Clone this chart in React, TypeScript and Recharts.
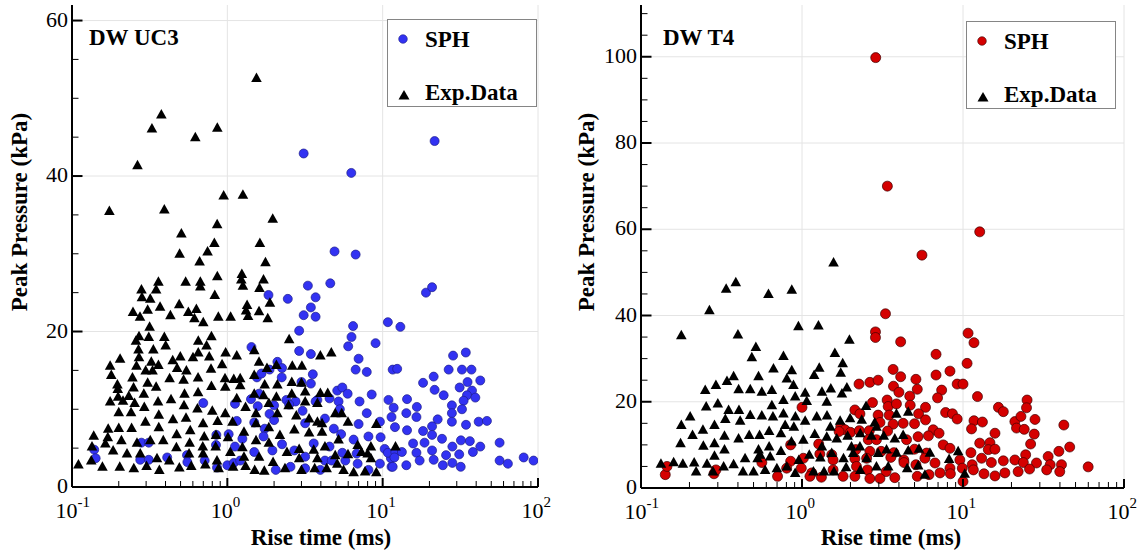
import React from 'react';
import { CartesianGrid, Legend, Scatter, ScatterChart, XAxis, YAxis } from 'recharts';

const SERIF = '"Liberation Serif", "Times New Roman", Times, serif';

// [rise time (ms), peak pressure (kPa)]
const UC3_SPH: [number, number][] = [
  [3.1, 42.9], [6.28, 40.4], [21.6, 44.5], [4.9, 30.3], [6.7, 29.9],
  [0.7, 10.8], [0.28, 5.7], [0.312, 5.7], [0.139, 4.8], [0.142, 3.7], [0.275, 3.5], [0.312, 3.5],
  [0.41, 3.8], [0.55, 4.1], [0.553, 3.2], [0.715, 3.4], [0.85, 6.7], [0.845, 5.4], [0.858, 2.5],
  [1.02, 6.8], [1.0, 2.8], [1.1, 3.1],
  [3.3, 25.9], [4.6, 26.2], [1.84, 24.7], [2.45, 24.2], [3.7, 24.4], [3.45, 23.1], [3.1, 22.1],
  [3.7, 21.9], [2.9, 20.1], [6.45, 20.7], [10.8, 21.2], [6.3, 19.3], [6.0, 18.1], [9.0, 18.5],
  [1.43, 18], [2.9, 17.5], [3.45, 17.1], [7.0, 16.5], [6.7, 15.1], [7.9, 14.8], [11.6, 15.1],
  [2.1, 16.1], [2.25, 15.3], [3.55, 14.5], [1.87, 15.1], [1.55, 14.1], [1.66, 14.6], [2.24, 14.1],
  [3.0, 13.5], [3.45, 13.3], [5.1, 12.4], [5.5, 12.8], [5.95, 12], [4.55, 11.4], [3.8, 11.2],
  [8.5, 11.9], [10.9, 11.2], [7.1, 11], [5.2, 11], [3.7, 11], [2.75, 11], [2.4, 11.2], [2.0, 10.5],
  [1.6, 12], [1.42, 11.3], [1.12, 10.7], [1.57, 10.4], [1.87, 9.4], [2.5, 10.6], [3.05, 9.8],
  [4.25, 8.8], [5.3, 10], [7.9, 9.5], [7.0, 8.1], [9.7, 6.4], [9.6, 8.4], [11.4, 9], [1.15, 8.5],
  [1.49, 8.3], [1.74, 7.5], [2.0, 8.6], [3.17, 8.2], [4.85, 7.5], [5.4, 6.8], [6.5, 6.1], [8.1, 6.5],
  [1.25, 6.2], [1.71, 6.5], [2.25, 5.5], [3.6, 5.6], [4.55, 5.2], [5.5, 4.4], [6.8, 4.3], [10.3, 4.9],
  [11.3, 3.7], [10.8, 4.4], [1.12, 5.2], [1.49, 4.5], [1.95, 4.7], [2.7, 4.7], [3.17, 3.9], [4.25, 3.4],
  [1.21, 3.4], [2.05, 2.2], [2.55, 2.6], [4.7, 3.4], [5.75, 3.4], [6.9, 3], [8.1, 2.2], [9.6, 3],
  [11.4, 2.6], [3.97, 2.2], [3.17, 2.4], [11.77, 10.2],
  [13, 20.6], [12.4, 15.2], [19, 25], [20.8, 25.7], [28.4, 16.9], [34.3, 17.3], [26.6, 15.1],
  [32.4, 15.1], [37.3, 15.1], [21.3, 14.2], [18.2, 13.4], [35.2, 13.5], [42.5, 13.7], [21.6, 12.5],
  [24.7, 11.8], [31.3, 12.8], [37.6, 12.4], [34.9, 11.8], [39.5, 11.5], [14.35, 11.3], [16.6, 10.3],
  [14.2, 9.5], [16.5, 9], [27.9, 10.5], [33.2, 11.1], [32.4, 10], [27.9, 9.5], [22.6, 8.7],
  [27.9, 8.4], [34.4, 8], [41.5, 8.4], [46.9, 8.5], [18.2, 7.2], [20.8, 7.8], [20.8, 6.7], [24.1, 6.2],
  [18.6, 5.7], [15.7, 5.6], [16.5, 4.4], [20.8, 4.7], [25.6, 4.1], [31.1, 4.2], [38.1, 4.5],
  [42.5, 5.2], [36.4, 5.9], [31.9, 6], [28.1, 5.2], [12.06, 4.5], [13.3, 4.5], [11.9, 3.8],
  [17.3, 3.4], [21.3, 3.5], [24.4, 2.8], [28.1, 3.1], [31.8, 2.6], [14.2, 2.8], [11.6, 2.6],
  [56.6, 5.7], [56.6, 3.4], [64, 3], [80.9, 3.8], [93.6, 3.4], [12.0, 7.7], [14.35, 7.3],
];

const UC3_EXP: [number, number][] = [
  [1.54, 52.6], [0.376, 47.9], [0.327, 46.1], [0.862, 46.2], [0.622, 45], [0.264, 41.4],
  [0.947, 37.5], [1.26, 37.6], [0.174, 35.5], [0.393, 35.7], [1.96, 34.5], [0.86, 33.8],
  [0.506, 32.6], [1.62, 31.4], [0.825, 31.4], [0.493, 30], [0.746, 30.3], [0.663, 29], [1.76, 28.9],
  [0.862, 27.1], [0.539, 26.4], [0.36, 26.4], [0.67, 26.4], [0.67, 25.8], [0.28, 25.4], [0.348, 25.4],
  [0.83, 24.7], [0.282, 24.4], [0.319, 24.2], [0.49, 23.5], [0.369, 23.2], [0.247, 22.5],
  [0.307, 22.8], [0.632, 22.9], [0.274, 21.9], [0.43, 22.1], [0.561, 22.5], [0.614, 21.7],
  [0.7, 21.2], [0.875, 21.9], [0.316, 20.6], [0.27, 19.4], [0.312, 19.3], [0.393, 19.3],
  [0.258, 18.8], [0.401, 18.2], [0.65, 18.8], [0.79, 19.4], [0.735, 18.2], [0.268, 17.7],
  [0.334, 17.7], [0.204, 16.5], [0.27, 16.7], [0.445, 16.3], [0.498, 16.8], [0.601, 16.7],
  [0.65, 17.3], [0.765, 16.8], [0.975, 17.3], [0.176, 15.6], [0.26, 15.6], [0.324, 16.1],
  [0.36, 15.7], [0.179, 14.4], [0.298, 15], [0.33, 15], [0.475, 15.3], [0.545, 15], [0.925, 15.8],
  [0.785, 15.2], [0.196, 13.2], [0.245, 14.1], [0.307, 13.4], [0.348, 12.9], [0.425, 14],
  [0.523, 13.8], [0.648, 14.1], [0.966, 14], [1.1, 13.9], [0.197, 12.6], [0.249, 12.8], [0.29, 12],
  [0.198, 11.6], [0.232, 11.7], [0.176, 11], [0.213, 11.1], [0.253, 10.8], [0.358, 11],
  [0.434, 11.3], [0.53, 12], [0.648, 12.2], [0.79, 13], [0.97, 12.9], [0.292, 10.3], [0.2, 9.6],
  [0.24, 9.6], [0.362, 9.3], [0.526, 10.5], [0.642, 10.1], [0.8, 9.8], [0.97, 9.5], [0.297, 8.4],
  [0.447, 8.7], [0.542, 8.9], [0.698, 8.2], [0.866, 8.5], [1.08, 8.4], [0.171, 7.5], [0.2, 7.6],
  [0.242, 7.6], [0.362, 7.7], [0.472, 6.8], [0.577, 7.3], [0.71, 6.5], [0.845, 6.7], [1.01, 6.4],
  [0.138, 6.6], [0.17, 6.4], [0.208, 6], [0.262, 5.7], [0.319, 6], [0.387, 6], [0.572, 5.7],
  [0.695, 5.2], [0.841, 5.2], [0.1345, 5.2], [0.164, 5.6], [0.184, 4.7], [0.226, 4.3], [0.275, 4.3],
  [0.3525, 3.7], [0.47, 5.1], [0.567, 4.3], [0.698, 4.3], [0.858, 3.4], [1.045, 4.5], [0.11, 2.9],
  [0.133, 3.4], [0.157, 2.6], [0.203, 2.6], [0.25, 2.4], [0.302, 2.7], [0.365, 2.2], [0.423, 3.4],
  [0.491, 2.5], [0.586, 2.7], [0.722, 2.9], [0.879, 2.4], [1.09, 2.6],
  [1.24, 27.4], [1.23, 26.7], [1.26, 25.9], [1.71, 26.7], [1.61, 25.6], [1.88, 23.7], [1.34, 23.4],
  [1.32, 22.7], [1.36, 22], [1.6, 22.6], [1.82, 21.7], [1.05, 21.9], [2.5, 19], [1.49, 17.6],
  [1.15, 16.9], [3.97, 16.9], [4.67, 17.3], [1.6, 16.1], [2.07, 15.7], [1.8, 15.3], [2.62, 15.6],
  [3.02, 15.6], [1.21, 14], [1.49, 14.4], [1.74, 13.2], [2.1, 13.2], [2.6, 13.5], [3.0, 13.4],
  [1.21, 13.1], [1.49, 12], [1.71, 11.8], [2.07, 11.6], [2.6, 12], [3.17, 12.3], [3.97, 12.1],
  [4.43, 12.1], [1.15, 11.4], [1.85, 10.8], [2.48, 10.5], [3.17, 11], [3.8, 10.8], [1.31, 10.3],
  [1.53, 9.5], [2.1, 9.5], [2.78, 9.2], [3.36, 8.8], [3.8, 8.4], [4.07, 8.2], [4.95, 9.5],
  [5.45, 9.5], [5.98, 8.4], [9.1, 8.1], [1.28, 7.1], [1.53, 8.2], [1.85, 7.7], [2.18, 6.7],
  [2.7, 7.4], [3.36, 7], [4.07, 7.1], [5.2, 6.1], [1.25, 5.1], [1.53, 6], [1.85, 5.7], [2.42, 4.5],
  [2.9, 4.9], [3.6, 4.8], [4.25, 5.2], [6.9, 5.4], [8.4, 5.2], [1.28, 3.9], [1.6, 3.9], [1.97, 3.2],
  [2.9, 3.7], [3.8, 3.7], [4.95, 4.1], [5.98, 4.2], [7.3, 4.5], [8.0, 4.3], [8.4, 3.7], [1.31, 2.7],
  [1.5, 2.2], [1.73, 2.1], [2.35, 2.4], [3.0, 2.2], [3.65, 2.4], [4.36, 2.4], [5.1, 3], [5.6, 2.2],
  [6.5, 1.9], [7.7, 2], [9.1, 1.9], [12.1, 5.2],
];

const T4_SPH: [number, number][] = [
  [2.87, 99.8], [3.39, 70], [12.7, 59.4], [5.56, 54], [3.3, 40.4],
  [0.1415, 3.1], [0.145, 5], [0.284, 3.3], [0.292, 4.2], [0.563, 5.9], [0.705, 2.7], [0.85, 6.2],
  [2.86, 36.2], [2.86, 34.9], [4.1, 33.9], [10.75, 35.9], [11.7, 33.7], [6.8, 31], [10.6, 28.9],
  [3.68, 27.5], [4.1, 25.8], [6.8, 26.2], [8.3, 27.1], [5.1, 25.2], [2.26, 24.1], [2.64, 24.5],
  [2.97, 25], [3.7, 23.6], [4.0, 22.2], [4.67, 21.3], [5.2, 22.9], [7.37, 22.7], [9.2, 24.1],
  [10, 24.1], [6.95, 20.9], [12.3, 21.2], [1.0, 18.7], [2.13, 18.1], [2.29, 17.2], [2.74, 19.8],
  [3.38, 20.4], [3.43, 18.9], [3.86, 19.5], [4.7, 19.2], [5.85, 18.7], [7.8, 17.5], [8.6, 17.2],
  [9.2, 16], [11.7, 15.6], [11.3, 13.7], [2.97, 16.9], [3.48, 16.9], [5.3, 17.2], [5.85, 15.8],
  [5.0, 14.9], [4.25, 15], [3.68, 14.8], [3.05, 15.2], [1.74, 14.2], [1.85, 13.5], [1.7, 13.1],
  [2.0, 12.9], [2.27, 13.3], [2.62, 13.3], [3.4, 13.2], [6.53, 13.5], [7.1, 12.7], [6.1, 12.1],
  [5.26, 11.9], [4.46, 11.2], [2.58, 11.2], [2.9, 11.2], [1.27, 10.2], [0.85, 10], [7.54, 10],
  [8.3, 9.2], [11.2, 8.2], [12.7, 10.4], [5.0, 9], [5.94, 8.1], [3.72, 8.2], [3.1, 8.5], [2.64, 8.5],
  [2.16, 8.9], [1.53, 7.7], [1.29, 7.9], [1.02, 6.9], [1.56, 6.5], [2.13, 6.8], [2.52, 6.9],
  [4.29, 6.5], [3.56, 7.1], [5.8, 6.9], [9.56, 6.5], [11.4, 5.4], [0.803, 4.6], [0.99, 4.6],
  [1.15, 3.5], [1.56, 4.2], [2.18, 5], [2.55, 4.2], [3.33, 3.8], [4.3, 5.9], [5.1, 5.4], [6.7, 5.8],
  [8.3, 4.6], [9.9, 4.6], [11.6, 4.2], [1.12, 2.7], [1.32, 2.5], [1.8, 2.7], [2.13, 2.7], [2.64, 2.2],
  [3.05, 2.2], [3.77, 2.4], [5.2, 2.7], [6.15, 3.1], [7.2, 3.5], [8.35, 3.3], [10, 1.5],
  [16.6, 18.7], [17.8, 17.7], [13.2, 15.3], [15.8, 12.7], [14.7, 10.5], [14.36, 8.9], [15.8, 9],
  [13.05, 6.9], [15, 5.9], [17.8, 6.3], [13.5, 3.3], [15.8, 2.8], [18.2, 3.5], [21, 15.4],
  [21.5, 13.9], [22.9, 16.6], [25, 20.4], [24.8, 18.6], [28, 15.9], [24, 13.6], [27.7, 12.5],
  [26.3, 10.2], [24.5, 7.7], [21, 6.5], [23.7, 5.9], [28.6, 5.8], [22, 3.8], [25.9, 4.4],
  [33.8, 7.3], [34.8, 5.4], [33.1, 4.2], [39.4, 8.5], [40.9, 5.4], [39.9, 3.8], [46, 9.5],
  [42.3, 14.6], [59.9, 4.9],
];

const T4_EXP: [number, number][] = [
  [1.57, 52.3], [0.388, 47.7], [0.338, 46.2], [0.619, 45], [0.864, 46], [0.266, 41.2], [0.178, 35.4],
  [0.4, 35.6], [0.95, 37.5], [1.265, 37.7], [1.97, 34.4], [0.517, 32.7], [0.488, 30.3], [1.6, 31.3],
  [0.767, 30.6], [0.665, 27.7], [0.864, 27.3], [1.79, 28.9], [1.74, 26.7], [1.28, 27.9], [1.19, 26.2],
  [0.537, 25.9], [0.376, 25.9], [0.342, 24.8], [0.292, 23.9], [0.2506, 22.7], [0.805, 25.4],
  [0.885, 23.9], [0.404, 22.9], [0.477, 22.9], [0.563, 22.3], [0.65, 22.7], [1.33, 22.3],
  [1.51, 23.1], [1.9, 23.3], [1.77, 21.9], [1.046, 22.1], [0.907, 21.2], [1.07, 20.2], [0.767, 20.4],
  [0.254, 18.9], [0.3, 19.6], [0.65, 19.2], [1.425, 20], [0.35, 18.1], [0.406, 18.1], [0.202, 16.6],
  [0.477, 16.9], [0.563, 16.8], [0.413, 15.6], [0.66, 16.6], [0.767, 17.3], [0.91, 16.6],
  [1.046, 15.6], [1.235, 16.6], [1.43, 16.8], [1.725, 15.6], [1.99, 16.2], [0.178, 14.6],
  [0.286, 14.6], [0.334, 16], [0.786, 14.6], [0.89, 14.2], [1.5, 14.2], [2.35, 15.8], [0.2425, 13.5],
  [0.209, 12.3], [0.33, 12.1], [0.4036, 11.5], [0.47, 12.3], [0.545, 12.3], [0.625, 13.2],
  [0.74, 12.7], [1.02, 11.2], [1.2, 12.5], [1.425, 11.9], [1.644, 11.5], [1.92, 12.1], [2.3, 12.7],
  [0.176, 10.4], [0.244, 9.8], [0.286, 10.4], [0.33, 8.9], [0.537, 8.9], [0.625, 9.6], [0.86, 10.8],
  [1.33, 9.6], [2.03, 9.6], [0.55, 7.7], [0.286, 7.5], [0.443, 6.9], [0.53, 6.9], [0.74, 8.6],
  [1.11, 7.7], [1.3, 7.1], [1.53, 8.1], [1.81, 6.9], [2.08, 8.1], [0.133, 5.6], [0.1595, 6],
  [0.182, 5.6], [0.214, 5.9], [0.257, 5.6], [0.634, 7.3], [0.955, 6.5], [0.22, 3.8], [0.28, 3.8],
  [0.326, 5], [0.376, 5.5], [0.43, 3.8], [0.5, 3.8], [0.59, 4.2], [0.698, 4.6], [0.805, 5],
  [0.907, 3.5], [1.178, 3.8], [1.37, 3.8], [1.58, 3.8], [1.88, 4.8], [2.3, 4.2],
  [2.83, 15.2], [3.86, 17.2], [4.57, 17.7], [2.9, 14.2], [3.77, 11.5], [4.25, 12.3], [3.22, 12.1],
  [2.7, 12.1], [2.97, 8.1], [3.35, 8.9], [3.86, 8.2], [4.57, 8.7], [5.33, 9.1], [6.23, 8.2],
  [9.33, 8.5], [8.2, 6.7], [2.9, 5], [3.43, 5], [4.5, 4.6], [5.27, 5.2], [5.8, 3.1], [10.25, 3.3],
  [2.5, 19], [2.52, 6.9], [2.29, 9.6],
];

const X_TICKS = [0.1, 0.2, 0.3, 0.4, 0.5, 0.6, 0.7, 0.8, 0.9, 1, 2, 3, 4, 5, 6, 7, 8, 9, 10, 20, 30, 40, 50, 60, 70, 80, 90, 100];
const X_MAJOR = [0.1, 1, 10, 100];
const X_EXPONENTS: Record<string, string> = { '0.1': '-1', '1': '0', '10': '1', '100': '2' };

const UC3_Y_TICKS = [0, 5, 10, 15, 20, 25, 30, 35, 40, 45, 50, 55, 60];
const UC3_Y_MAJOR = [0, 20, 40, 60];
const T4_Y_TICKS = [0, 5, 10, 15, 20, 25, 30, 35, 40, 45, 50, 55, 60, 65, 70, 75, 80, 85, 90, 95, 100, 105, 110];
const T4_Y_MAJOR = [0, 20, 40, 60, 80, 100];

const toPoints = (rows: [number, number][]) => rows.map(([rise, peak]) => ({ rise, peak }));

function XTick({ x, y, payload }: any) {
  const v = payload.value;
  const major = X_MAJOR.includes(v);
  return (
    <g>
      <line x1={x} x2={x} y1={y} y2={y - (major ? 9 : 6)} stroke="#000" strokeWidth={major ? 2 : 1} />
      {major && (
        <>
          <text x={x - 16.5} y={y + 30.5} fontFamily={SERIF} fontSize={22} fill="#000">10</text>
          <text x={x + 5.5} y={y + 19.5} fontFamily={SERIF} fontSize={15} fill="#000">
            {X_EXPONENTS[String(v)]}
          </text>
        </>
      )}
    </g>
  );
}

function YTick({ x, y, payload, major }: any) {
  const isMajor = major.includes(payload.value);
  return (
    <g>
      <line x1={x} x2={x + (isMajor ? 10.5 : 6.5)} y1={y} y2={y} stroke="#000" strokeWidth={isMajor ? 2 : 1} />
      {isMajor && (
        <text x={x - 4} y={y + 6} textAnchor="end" fontFamily={SERIF} fontSize={22} fill="#000">
          {payload.value}
        </text>
      )}
    </g>
  );
}

const triangle = ({ cx, cy }: any) => (
  <polygon points={`${cx},${cy - 5.5} ${cx + 5.3},${cy + 4} ${cx - 5.3},${cy + 4}`} fill="#000" />
);

function legendBox(fill: string, stroke: string) {
  return () => (
    <div style={{ width: 150, height: 88, border: '1px solid #858585', background: '#fff', boxSizing: 'border-box' }}>
      <svg width={148} height={86} style={{ display: 'block' }}>
        <circle cx={15} cy={19} r={4.3} fill={fill} stroke={stroke} strokeWidth={0.6} />
        <polygon points="16,70 21.5,79.5 10.5,79.5" fill="#000" />
        <text x={37} y={27} fontFamily={SERIF} fontWeight="bold" fontSize={23} fill="#000">SPH</text>
        <text x={37} y={80} fontFamily={SERIF} fontWeight="bold" fontSize={23} fill="#000">Exp.Data</text>
      </svg>
    </div>
  );
}

type PanelProps = {
  left: number;
  width: number;
  marginRight: number;
  yAxisWidth: number;
  xAxisHeight: number;
  yMax: number;
  yTicks: number[];
  yMajor: number[];
  sph: [number, number][];
  exp: [number, number][];
  fill: string;
  stroke: string;
  radius: number;
  legendLeft: number;
  legendTop: number;
};

function Panel(p: PanelProps) {
  return (
    <div style={{ position: 'absolute', left: p.left, top: 0 }}>
      <ScatterChart width={p.width} height={558} margin={{ top: 5, right: p.marginRight, bottom: 0, left: 0 }}>
        <CartesianGrid stroke="#e4e4e4" horizontalValues={p.yMajor} verticalValues={X_MAJOR} />
        <XAxis
          type="number"
          dataKey="rise"
          scale="log"
          domain={[0.1, 100]}
          allowDataOverflow
          ticks={X_TICKS}
          interval={0}
          height={p.xAxisHeight}
          tickSize={0}
          tickMargin={0}
          tickLine={false}
          axisLine={{ stroke: '#000', strokeWidth: 2 }}
          tick={(t: any) => <XTick {...t} />}
        />
        <YAxis
          type="number"
          dataKey="peak"
          domain={[0, p.yMax]}
          allowDataOverflow
          ticks={p.yTicks}
          interval={0}
          width={p.yAxisWidth}
          tickSize={0}
          tickMargin={0}
          tickLine={false}
          axisLine={{ stroke: '#000', strokeWidth: 2 }}
          tick={(t: any) => <YTick {...t} major={p.yMajor} />}
        />
        <Scatter
          name="SPH"
          data={toPoints(p.sph)}
          isAnimationActive={false}
          shape={({ cx, cy }: any) => (
            <circle cx={cx} cy={cy} r={p.radius} fill={p.fill} stroke={p.stroke} strokeWidth={0.7} />
          )}
        />
        <Scatter name="Exp.Data" data={toPoints(p.exp)} isAnimationActive={false} shape={triangle} />
        <Legend
          layout="vertical"
          align="center"
          verticalAlign="middle"
          content={legendBox(p.fill, p.stroke)}
          wrapperStyle={{ left: p.legendLeft, top: p.legendTop, width: 150, height: 88 }}
        />
      </ScatterChart>
    </div>
  );
}

export default function App() {
  const bold = { fontFamily: SERIF, fontWeight: 'bold' as const, fontSize: 23, fill: '#000' };
  return (
    <div style={{ position: 'absolute', left: 0, top: 0, width: 1144, height: 558, background: '#fff', overflow: 'hidden' }}>
      <Panel
        left={0}
        width={560}
        marginRight={22}
        yAxisWidth={72}
        xAxisHeight={71}
        yMax={62}
        yTicks={UC3_Y_TICKS}
        yMajor={UC3_Y_MAJOR}
        sph={UC3_SPH}
        exp={UC3_EXP}
        fill="#3232f2"
        stroke="#1d1d8a"
        radius={4.5}
        legendLeft={387}
        legendTop={19}
      />
      <Panel
        left={570}
        width={574}
        marginRight={20}
        yAxisWidth={71}
        xAxisHeight={70}
        yMax={112}
        yTicks={T4_Y_TICKS}
        yMajor={T4_Y_MAJOR}
        sph={T4_SPH}
        exp={T4_EXP}
        fill="#d40000"
        stroke="#3d0000"
        radius={5}
        legendLeft={396}
        legendTop={21}
      />
      <svg width={1144} height={558} style={{ position: 'absolute', left: 0, top: 0, pointerEvents: 'none' }}>
        <text x={89} y={45} {...bold}>DW UC3</text>
        <text x={663} y={45} {...bold}>DW T4</text>
        <text x={321} y={545} textAnchor="middle" {...bold}>Rise time (ms)</text>
        <text x={891} y={545} textAnchor="middle" {...bold}>Rise time (ms)</text>
        <text x={27} y={212} textAnchor="middle" transform="rotate(-90 27 212)" {...bold}>Peak Pressure (kPa)</text>
        <text x={594} y={212} textAnchor="middle" transform="rotate(-90 594 212)" {...bold}>Peak Pressure (kPa)</text>
      </svg>
    </div>
  );
}
